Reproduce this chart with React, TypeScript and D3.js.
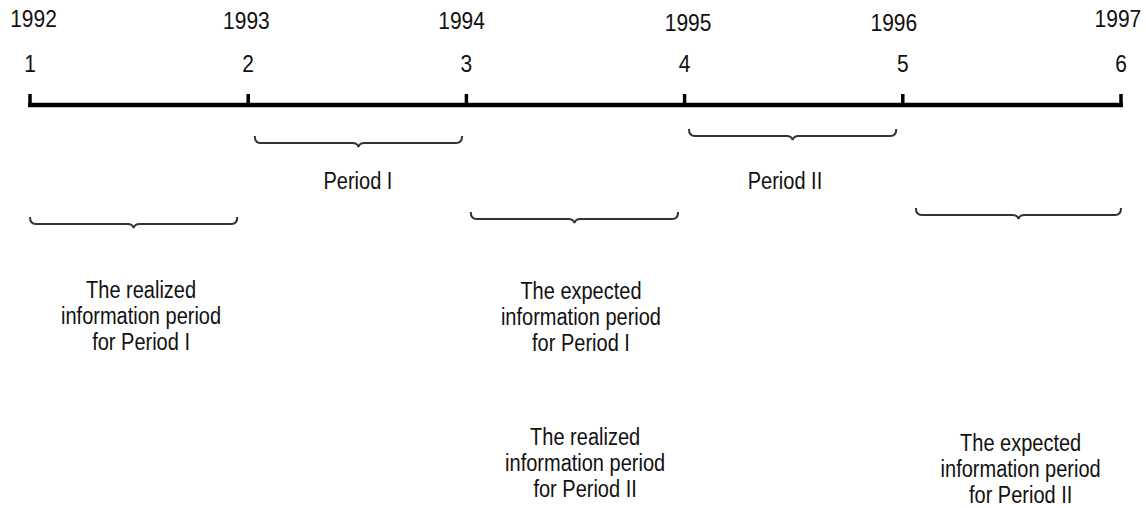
import React from 'react';
import * as d3 from 'd3';

// timeline points
const periods = [1, 2, 3, 4, 5, 6];
const years = ['1992', '1993', '1994', '1995', '1996', '1997'];
// where each year label sits along the period axis
const yearAt = [1.016, 1.992, 2.978, 4.016, 4.959, 5.986];

// braces: start / end on the period axis
const braceFrom = [2.03, 4.02, 1.0, 3.02, 5.06];
const braceTo = [2.98, 4.97, 1.95, 3.97, 6.0];

// text blocks: centre on the period axis, lines
const labelAt = [2.503, 4.46, 1.509, 3.525, 5.54, 3.544];
const labelLines = [
  ['Period I'],
  ['Period II'],
  ['The realized', 'information period', 'for Period I'],
  ['The expected', 'information period', 'for Period I'],
  ['The expected', 'information period', 'for Period II'],
  ['The realized', 'information period', 'for Period II'],
];

const W = 1146;
const H = 508;

const FONT = '"Liberation Sans", Arial, sans-serif';

function bracePath(x0: number, x1: number, y: number) {
  const cx = (x0 + x1) / 2;
  const p = d3.path();
  p.moveTo(x0, y - 7);
  p.quadraticCurveTo(x0, y, x0 + 6, y);
  p.lineTo(cx - 6, y);
  p.quadraticCurveTo(cx - 1, y, cx, y + 4);
  p.quadraticCurveTo(cx + 1, y, cx + 6, y);
  p.lineTo(x1 - 6, y);
  p.quadraticCurveTo(x1, y, x1, y - 7);
  return p.toString();
}

const Label = ({ x, y, text, size = 20 }: { x: number; y: number; text: string; size?: number }) => (
  <text
    transform={`translate(${x},${y}) scale(1,1.15)`}
    textAnchor="middle"
    fontFamily={FONT}
    fontSize={size}
    fill="#111"
  >
    {text}
  </text>
);

export default function App() {
  const x = d3.scaleLinear().domain([1, 6]).range([30, 1121]);

  const axisY = 105;
  const yearY = [27, 29, 29, 31, 31, 27];
  const braceY = [143, 136, 224, 219, 215];
  const labelY = [189, 189, 298, 299, 451, 445];
  const lineGap = 26;

  return (
    <svg width={W} height={H} style={{ position: 'absolute', left: 0, top: 0, background: '#fff' }}>
      {/* year labels */}
      {years.map((yr, i) => (
        <Label key={yr} x={x(yearAt[i])} y={yearY[i]} text={yr} size={21} />
      ))}
      {/* period numbers */}
      {periods.map((p) => (
        <Label key={p} x={x(p)} y={72} text={String(p)} size={21} />
      ))}
      {/* axis */}
      <line x1={x(1) - 2} x2={x(6) + 2} y1={axisY} y2={axisY} stroke="#000" strokeWidth={4.5} />
      {periods.map((p) => (
        <line key={p} x1={x(p)} x2={x(p)} y1={94} y2={axisY} stroke="#000" strokeWidth={3.5} />
      ))}
      {/* braces */}
      {braceFrom.map((f, i) => (
        <path
          key={i}
          d={bracePath(x(f), x(braceTo[i]), braceY[i])}
          fill="none"
          stroke="#333"
          strokeWidth={2}
        />
      ))}
      {/* text blocks */}
      {labelLines.map((lines, i) =>
        lines.map((t, j) => (
          <Label key={i + '-' + j} x={x(labelAt[i])} y={labelY[i] + j * lineGap} text={t} />
        ))
      )}
    </svg>
  );
}
